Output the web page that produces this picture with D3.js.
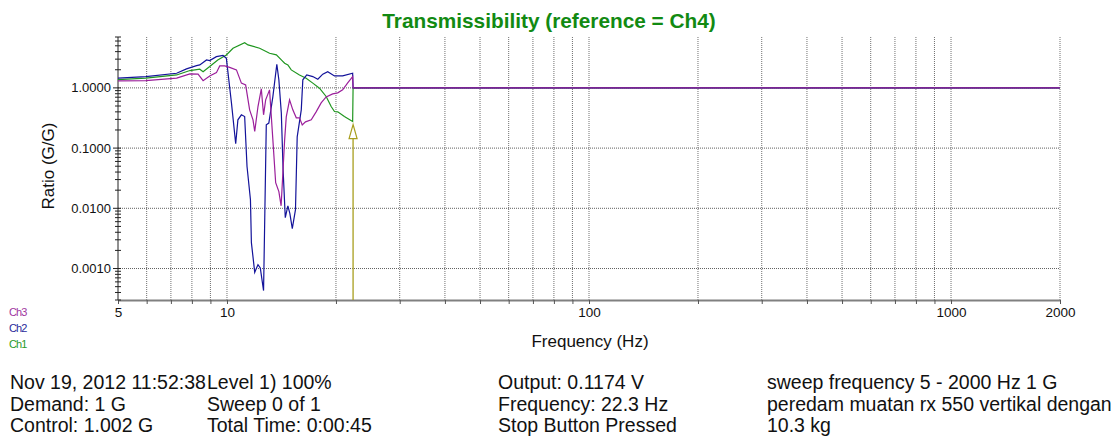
<!DOCTYPE html>
<html>
<head>
<meta charset="utf-8">
<script src="https://cdn.jsdelivr.net/npm/d3@7"></script>
<style>
  body { margin: 0; background: #fff; }
  svg { font-family: "Liberation Sans", Arial, sans-serif; display: block; }
</style>
</head>
<body>
<div id="chart"></div>
<script>
// data (frequency in Hz, ratio in G/G)
const ch1Freq  = [5.00, 5.97, 7.26, 7.90, 8.41, 8.59, 8.96, 9.43, 9.96, 10.39, 11.19, 11.43, 12.31, 13.11, 13.69, 14.13, 14.43, 14.73, 15.05, 15.86, 16.55, 17.26, 18.01, 18.79, 19.40, 19.81, 20.23, 21.10, 22.24];
const ch1Ratio = [1.37, 1.45, 1.64, 1.94, 2.04, 1.86, 2.26, 2.91, 3.53, 4.56, 5.64, 5.17, 4.56, 3.76, 3.53, 2.91, 2.57, 2.41, 1.99, 1.64, 1.45, 1.20, 0.99, 0.72, 0.49, 0.405, 0.40, 0.334, 0.276];

const ch2Freq  = [5.00, 5.97, 7.26, 7.73, 8.24, 8.41, 8.78, 8.96, 9.35, 9.75, 9.96, 10.29, 10.57, 10.72, 10.96, 11.19, 11.36, 11.61, 11.68, 11.93, 12.18, 12.36, 12.62, 12.84, 13.05, 13.39, 13.73, 13.91, 14.13, 14.29, 14.49, 14.73, 14.92, 15.15, 15.46, 15.63, 16.04, 16.20, 16.61, 17.26, 17.82, 18.39, 18.98, 19.81, 20.87, 22.24];
const ch2Ratio = [1.45, 1.54, 1.75, 2.07, 2.34, 2.41, 2.91, 2.84, 3.30, 3.46, 3.11, 0.558, 0.118, 0.295, 0.357, 0.334, 0.0495, 0.0139, 0.00269, 0.000865, 0.00116, 0.00102, 0.00043, 0.243, 0.260, 0.717, 2.47, 1.36, 0.380, 0.0437, 0.00698, 0.0110, 0.00813, 0.00459, 0.00948, 0.154, 0.432, 1.36, 1.64, 1.54, 1.39, 1.69, 1.86, 1.58, 1.58, 1.75];

const ch3Freq  = [5.00, 5.97, 7.26, 7.90, 8.32, 8.59, 8.96, 9.35, 9.55, 9.86, 10.17, 10.62, 10.96, 11.26, 11.55, 11.80, 11.93, 12.18, 12.44, 12.62, 12.79, 13.11, 13.39, 13.63, 13.91, 14.11, 14.27, 14.43, 14.58, 14.89, 15.20, 15.54, 15.86, 16.14, 16.48, 17.09, 17.63, 18.20, 18.79, 19.59, 20.23, 20.87, 21.55, 22.24];
const ch3Ratio = [1.31, 1.32, 1.45, 1.71, 1.69, 1.32, 1.58, 1.79, 2.32, 2.32, 2.19, 1.99, 1.20, 1.12, 0.432, 0.295, 0.189, 0.490, 0.962, 0.357, 0.632, 0.927, 0.137, 0.0266, 0.0189, 0.0110, 0.0390, 0.137, 0.330, 0.632, 0.432, 0.318, 0.318, 0.243, 0.273, 0.295, 0.400, 0.564, 0.709, 0.795, 0.826, 0.927, 1.21, 1.54];

// after the stop the ratio is held at 1 up to the end of the range
const tailFreq  = [22.3, 2000];
const tailRatio = [1, 1];

const stopFreq = 22.3;

const xLabelValues = [5, 10, 100, 1000, 2000];
const yLabelValues = [1, 0.1, 0.01, 0.001];

const legendNames = ["Ch3", "Ch2", "Ch1"];

const info = [
  ["Nov 19, 2012 11:52:38", "Demand: 1 G", "Control: 1.002 G"],
  ["Level 1) 100%", "Sweep 0 of 1", "Total Time: 0:00:45"],
  ["Output: 0.1174 V", "Frequency: 22.3 Hz", "Stop Button Pressed"],
  ["sweep frequency 5 - 2000 Hz 1 G", "peredam muatan rx 550 vertikal dengan", "10.3 kg"]
];

const W = 1118, H = 447;
const pLeft = 118, pRight = 1060, pTop = 37, pBottom = 300;

const colors = { Ch1: "#1f961f", Ch2: "#13139a", Ch3: "#9b1f9b" };
const legendColors = { Ch1: "#2a9a2a", Ch2: "#2a2a9a", Ch3: "#a035a0" };

const svg = d3.select("#chart").append("svg")
  .attr("width", W).attr("height", H);

const x = d3.scaleLog().domain([5, 2000]).range([pLeft, pRight]);
const y = d3.scaleLog().domain([0.0003, 7]).range([pBottom, pTop]);

// title
svg.append("text")
  .attr("x", 549).attr("y", 28)
  .attr("text-anchor", "middle")
  .attr("font-size", 20.8).attr("font-weight", "bold")
  .attr("fill", "#128a12")
  .text("Transmissibility (reference = Ch4)");

// vertical dotted grid
svg.append("g")
  .selectAll("line")
  .data(x.ticks().filter(d => d > 5))
  .join("line")
    .attr("x1", d => x(d)).attr("x2", d => x(d))
    .attr("y1", pTop).attr("y2", pBottom)
    .attr("stroke", "#707070")
    .attr("stroke-dasharray", "1,1");

// horizontal dotted grid
svg.append("g")
  .selectAll("line")
  .data(yLabelValues)
  .join("line")
    .attr("x1", pLeft).attr("x2", pRight)
    .attr("y1", d => y(d)).attr("y2", d => y(d))
    .attr("stroke", "#606060")
    .attr("stroke-dasharray", "1,1");

// x axis
const xAxis = svg.append("g")
  .attr("transform", `translate(0,${pBottom})`)
  .call(d3.axisBottom(x)
    .tickValues(x.ticks())
    .tickSize(4)
    .tickSizeOuter(0)
    .tickFormat(d => xLabelValues.includes(d) ? d : ""));
xAxis.select(".domain").attr("stroke", "#808080").attr("stroke-width", 2);
xAxis.selectAll(".tick line").attr("stroke", "#555");
xAxis.selectAll(".tick text")
  .attr("font-family", "Liberation Sans, Arial, sans-serif")
  .attr("font-size", 13.5).attr("fill", "#111").attr("dy", "0.72em");

// y axis: line with crossing log ticks
const yAx = svg.append("g");
yAx.append("line")
  .attr("x1", pLeft).attr("x2", pLeft)
  .attr("y1", pTop).attr("y2", pBottom)
  .attr("stroke", "#222");
yAx.selectAll(".yt")
  .data(y.ticks())
  .join("line")
    .attr("class", "yt")
    .attr("x1", d => yLabelValues.includes(d) ? pLeft - 5 : pLeft - 3)
    .attr("x2", pLeft + 3)
    .attr("y1", d => y(d)).attr("y2", d => y(d))
    .attr("stroke", "#222");
yAx.selectAll(".yl")
  .data(yLabelValues)
  .join("text")
    .attr("class", "yl")
    .attr("x", pLeft - 7).attr("y", d => y(d))
    .attr("dy", "0.35em")
    .attr("text-anchor", "end")
    .attr("font-size", 13).attr("fill", "#111")
    .text(d => d3.format(".4f")(d));

// axis titles
svg.append("text")
  .attr("x", 590).attr("y", 347)
  .attr("text-anchor", "middle")
  .attr("font-size", 17).attr("fill", "#111")
  .text("Frequency (Hz)");
svg.append("text")
  .attr("transform", "rotate(-90)")
  .attr("x", -166).attr("y", 54)
  .attr("text-anchor", "middle")
  .attr("font-size", 17).attr("fill", "#111")
  .text("Ratio (G/G)");

// series
const line = d3.line()
  .x(d => x(d[0]))
  .y(d => y(d[1]));

const series = [
  { name: "Ch1", freq: ch1Freq, ratio: ch1Ratio },
  { name: "Ch2", freq: ch2Freq, ratio: ch2Ratio },
  { name: "Ch3", freq: ch3Freq, ratio: ch3Ratio }
];

series.forEach(s => {
  const pts = s.freq.map((f, i) => [f, s.ratio[i]])
    .concat(tailFreq.map((f, i) => [f, tailRatio[i]]));
  svg.append("path")
    .datum(pts)
    .attr("fill", "none")
    .attr("stroke", colors[s.name])
    .attr("stroke-width", 1.2)
    .attr("d", line);
});

// stop marker (open arrow under the Ch1 end point)
const mx = x(stopFreq);
const tipY = y(ch1Ratio[ch1Ratio.length - 1]) + 3;
svg.append("line")
  .attr("x1", mx).attr("x2", mx)
  .attr("y1", tipY + 14).attr("y2", pBottom)
  .attr("stroke", "#a89e1e").attr("stroke-width", 1.3);
svg.append("path")
  .attr("d", `M${mx},${tipY} L${mx - 4},${tipY + 14} L${mx + 4},${tipY + 14} Z`)
  .attr("fill", "#fff")
  .attr("stroke", "#a89e1e").attr("stroke-width", 1.2);

// legend
svg.append("g")
  .selectAll("text")
  .data(legendNames)
  .join("text")
    .attr("x", 9).attr("y", (d, i) => 316 + i * 16)
    .attr("font-size", 11)
    .attr("letter-spacing", "-0.9px")
    .attr("fill", d => legendColors[d])
    .text(d => d);

// status text block (last column runs off the right edge, as in the original)
const colX = [10, 207, 498, 767];
info.forEach((col, ci) => {
  svg.append("g")
    .selectAll("text")
    .data(col)
    .join("text")
      .attr("x", colX[ci]).attr("y", (d, ri) => 389 + ri * 21.5)
      .attr("font-size", 19.5)
      .attr("fill", "#111")
      .text(d => d);
});
</script>
</body>
</html>
